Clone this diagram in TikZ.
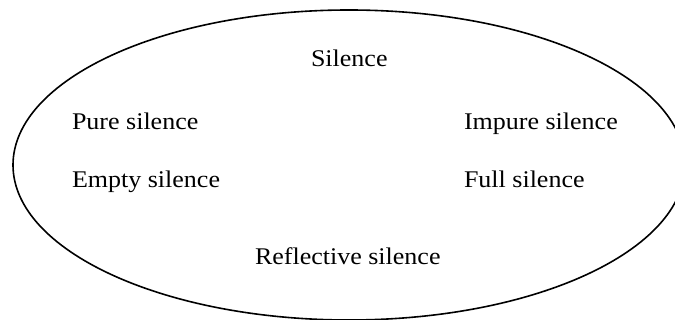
\documentclass[tikz,border=0pt]{standalone}
\usepackage{fontspec}
\usepackage{graphicx}
\setmainfont{Liberation Serif}
\newcommand{\sqztext}[1]{\scalebox{1}[0.92]{#1}}
\tikzset{
  lbl/.style={inner sep=0pt, outer sep=0pt, anchor=base west, font=\fontsize{26}{30}\selectfont},
  outline/.style={draw=black, line width=1.6pt}
}
\begin{document}
\begin{tikzpicture}[x=1pt, y=-1pt]
  \useasboundingbox (0,0) rectangle (675,320);
  \clip (0,0) rectangle (675,320);
  \draw[outline] (349,165) ellipse [x radius=336, y radius=155];
  \node[lbl] (silence) at (311,67) {\sqztext{Silence}};
  \node[lbl] (pure) at (72,130) {\sqztext{Pure silence}};
  \node[lbl] (empty) at (72,188) {\sqztext{Empty silence}};
  \node[lbl] (impure) at (464,130) {\sqztext{Impure silence}};
  \node[lbl] (full) at (464,188) {\sqztext{Full silence}};
  \node[lbl] (reflective) at (255,265) {\sqztext{Reflective silence}};
\end{tikzpicture}
\end{document}
